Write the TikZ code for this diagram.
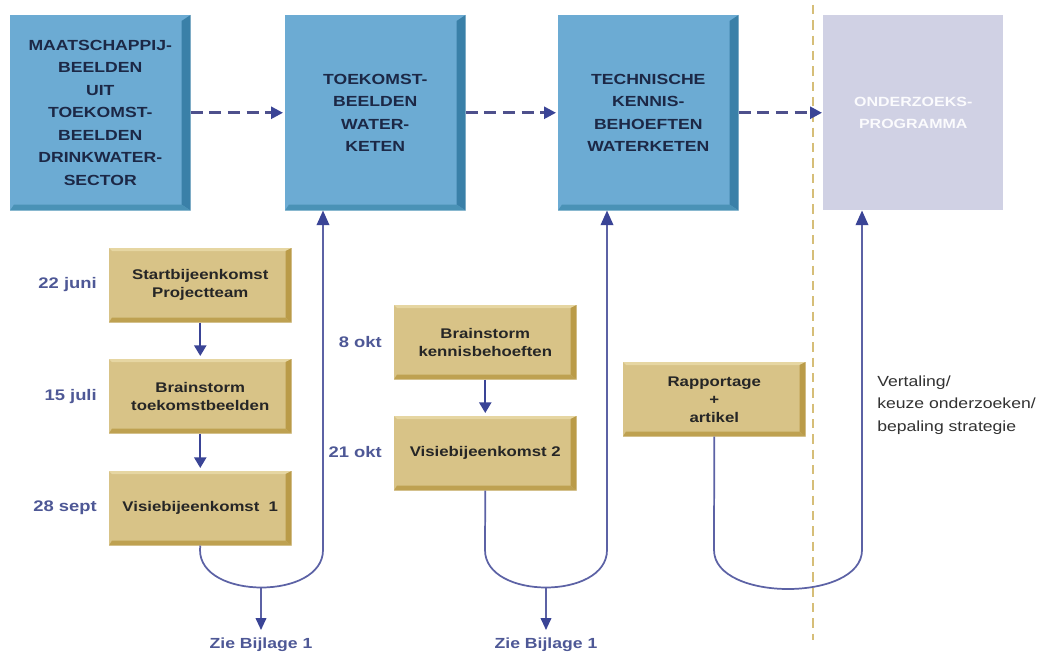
\documentclass[tikz,border=0pt]{standalone}
\usepackage{fontspec}
\setmainfont{Liberation Sans}
\newfontfamily\wf[FakeStretch=1.2]{Liberation Sans}
\usetikzlibrary{arrows.meta,calc}
\definecolor{boxblue}{RGB}{108,171,211}
\definecolor{bevblue}{RGB}{58,128,168}
\definecolor{bevblueb}{RGB}{74,146,182}
\definecolor{lav}{RGB}{208,209,228}
\definecolor{tanfill}{RGB}{216,195,135}
\definecolor{tanbev}{RGB}{186,155,72}
\definecolor{tanlight}{RGB}{230,214,162}
\definecolor{navy}{RGB}{28,40,70}
\definecolor{dashcol}{RGB}{78,80,140}
\definecolor{linecol}{RGB}{92,98,165}
\definecolor{headcol}{RGB}{58,68,150}
\definecolor{datecol}{RGB}{78,88,150}
\definecolor{sepcol}{RGB}{214,190,120}
\definecolor{txtgrey}{RGB}{50,50,50}
\begin{document}
\begin{tikzpicture}[x=0.75pt,y=-0.75pt,
  topbox/.style={fill=boxblue, minimum width=135pt, minimum height=146.25pt, inner sep=0pt,
    anchor=north west, align=center, text=navy, font=\wf\bfseries\fontsize{11}{16.9}\selectfont},
  progbox/.style={topbox, fill=lav, text=white!92!lav, font=\wf\bfseries\fontsize{10}{16.5}\selectfont},
  stepbox/.style={fill=tanfill, minimum width=136.5pt, minimum height=55.5pt, inner sep=0pt,
    anchor=north west, align=center, text=black!85, font=\wf\bfseries\fontsize{10.5}{13.5}\selectfont},
  datelbl/.style={anchor=east, text=datecol, inner sep=0pt, font=\wf\bfseries\fontsize{11.5}{13}\selectfont},
  zielbl/.style={anchor=north, text=datecol, inner sep=0pt, font=\wf\bfseries\fontsize{11}{13}\selectfont},
  dasharrow/.style={dashcol, line width=2pt, dash pattern=on 9pt off 5pt,
    -{Triangle[length=9pt,width=9pt,color=headcol]}},
  flowline/.style={linecol, line width=1.3pt},
  uparrow/.style={flowline, -{Triangle[length=11pt,width=9.5pt,color=headcol]}},
  downarrow/.style={flowline, -{Triangle[length=9pt,width=8pt,color=headcol]}},
  vstep/.style={headcol, line width=1.8pt, -{Triangle[length=8pt,width=9pt]}}
]
\useasboundingbox (0,0) rectangle (1048,659);
\fill[white] (0,0) rectangle (1048,659);

% separator
\draw[sepcol, line width=2pt, dash pattern=on 7pt off 4.5pt] (813,5) -- (813,640);

% top boxes
\node[topbox] (b1) at (10,15) {MAATSCHAPPIJ-\\BEELDEN\\UIT\\TOEKOMST-\\BEELDEN\\DRINKWATER-\\SECTOR};
\node[topbox] (b2) at (285,15) {TOEKOMST-\\BEELDEN\\WATER-\\KETEN};
\node[topbox] (b3) at (558,15) {TECHNISCHE\\KENNIS-\\BEHOEFTEN\\WATERKETEN};
\node[progbox] (b4) at (823,15) {ONDERZOEKS-\\PROGRAMMA};

\foreach \n in {b1,b2,b3}{
  \fill[bevblue] (\n.north east) -- (\n.south east) -- ($(\n.south east)+(-9,-6)$) -- ($(\n.north east)+(-9,6)$) -- cycle;
  \fill[bevblueb] (\n.south west) -- (\n.south east) -- ($(\n.south east)+(-9,-6)$) -- ($(\n.south west)+(4,-6)$) -- cycle;
}

% step boxes
\node[stepbox] (sA) at (109,248) {Startbijeenkomst\\Projectteam};
\node[stepbox] (sB) at (109,359) {Brainstorm\\toekomstbeelden};
\node[stepbox] (sC) at (109,471) {Visiebijeenkomst\ \ 1};
\node[stepbox] (sD) at (394,305) {Brainstorm\\kennisbehoeften};
\node[stepbox] (sE) at (394,416) {Visiebijeenkomst 2};
\node[stepbox] (sF) at (623,362) {Rapportage\\+\\artikel};

\foreach \n in {sA,sB,sC,sD,sE,sF}{
  \fill[tanlight] (\n.north west) -- (\n.north east) -- ($(\n.north east)+(-6,3)$) -- ($(\n.north west)+(3,3)$) -- cycle;
  \fill[tanbev] (\n.north east) -- (\n.south east) -- ($(\n.south east)+(-6,-5)$) -- ($(\n.north east)+(-6,3)$) -- cycle;
  \fill[tanbev!85!tanfill] (\n.south west) -- (\n.south east) -- ($(\n.south east)+(-6,-5)$) -- ($(\n.south west)+(3,-5)$) -- cycle;
}

% dates
\node[datelbl] (dA) at (97,285) {22 juni};
\node[datelbl] (dB) at (97,397) {15 juli};
\node[datelbl] (dC) at (97,508) {28 sept};
\node[datelbl] (dD) at (382,342) {8 okt};
\node[datelbl] (dE) at (382,452) {21 okt};

% dashed arrows
\draw[dasharrow] (b1.east) -- ($(b2.west)+(-2,0)$);
\draw[dasharrow] (b2.east) -- ($(b3.west)+(-2,0)$);
\draw[dasharrow] (b3.east) -- ($(b4.west)+(-1,0)$);

% step arrows
\draw[vstep] (sA.south) -- ($(sB.north)+(0,-3)$);
\draw[vstep] (sB.south) -- ($(sC.north)+(0,-3)$);
\draw[vstep] (sD.south) -- ($(sE.north)+(0,-3)$);

% labels
\node[zielbl] (z1) at (261,638) {Zie Bijlage 1};
\node[zielbl] (z2) at (546,638) {Zie Bijlage 1};
\node[anchor=west, align=left, text=txtgrey, inner sep=0pt, font=\wf\fontsize{11}{17}\selectfont] (vt) at (877,405)
  {Vertaling/\\keuze onderzoeken/\\bepaling strategie};

% U connectors
\coordinate (u1) at (261,587.5);
\coordinate (u2) at (546,587.5);
\draw[uparrow] (sC.south) -- (200,550) .. controls (200,600) and (323,600) .. (323,550) -- (323,0 |- b2.south);
\draw[uparrow] (sE.south) -- (485,550) .. controls (485,600) and (607,600) .. (607,550) -- (607,0 |- b3.south);
\draw[uparrow] (sF.south) -- (714,550) .. controls (714,602) and (862,602) .. (862,550) -- (862,0 |- b4.south);
\draw[downarrow] (u1) -- ($(z1.north)+(0,-8)$);
\draw[downarrow] (u2) -- ($(z2.north)+(0,-8)$);
\end{tikzpicture}
\end{document}
